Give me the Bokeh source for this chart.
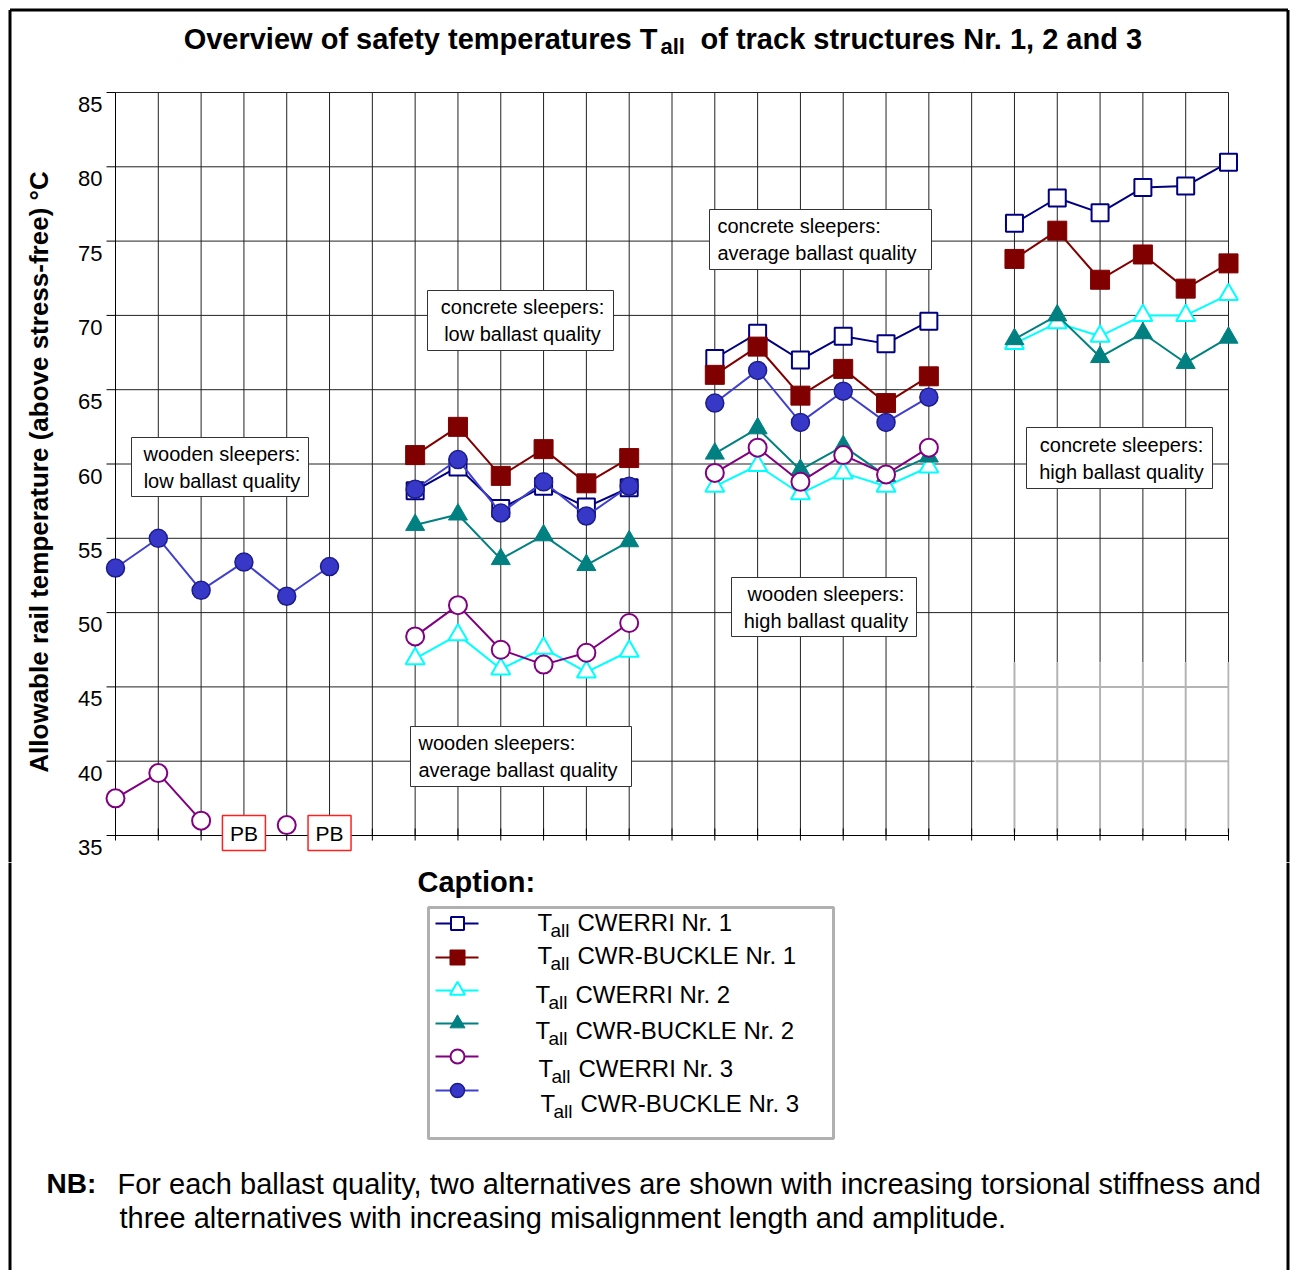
import math
from bokeh.plotting import figure
from bokeh.layouts import column
from bokeh.models import Range1d, LinearAxis, FixedTicker
from bokeh.core.properties import value
from bokeh.embed import file_html
from bokeh.resources import INLINE

nan = float("nan")

# ---------------- data ----------------
# four blocks of six alternatives: wooden/low, wooden/average, wooden/high, concrete/...
x_pos = [0, 1, 2, 3, 4, 5,
         7, 8, 9, 10, 11, 12,
         14, 15, 16, 17, 18, 19,
         21, 22, 23, 24, 25, 26]

cwerri_nr1 = [nan, nan, nan, nan, nan, nan,
              58.2, 59.8, 57.0, 58.5, 57.1, 58.4,
              67.1, 68.8, 67.0, 68.6, 68.1, 69.6,
              76.2, 77.9, 76.9, 78.6, 78.7, 80.3]
buckle_nr1 = [nan, nan, nan, nan, nan, nan,
              60.6, 62.5, 59.2, 61.0, 58.7, 60.4,
              66.0, 67.9, 64.6, 66.4, 64.1, 65.9,
              73.8, 75.7, 72.4, 74.1, 71.8, 73.5]
cwerri_nr2 = [nan, nan, nan, nan, nan, nan,
              46.9, 48.5, 46.2, 47.6, 46.0, 47.4,
              58.5, 59.9, 58.0, 59.4, 58.5, 59.8,
              68.1, 69.5, 68.6, 70.0, 70.0, 71.4]
buckle_nr2 = [nan, nan, nan, nan, nan, nan,
              55.9, 56.6, 53.6, 55.2, 53.2, 54.8,
              60.7, 62.4, 59.6, 61.2, 59.2, 60.5,
              68.4, 70.0, 67.2, 68.8, 66.8, 68.5]
cwerri_nr3 = [37.5, 39.2, 36.0, nan, 35.7, nan,
              48.4, 50.5, 47.5, 46.5, 47.3, 49.3,
              59.4, 61.1, 58.8, 60.6, 59.3, 61.1,
              nan, nan, nan, nan, nan, nan]
buckle_nr3 = [53.0, 55.0, 51.5, 53.4, 51.1, 53.1,
              58.3, 60.3, 56.7, 58.8, 56.5, 58.5,
              64.1, 66.3, 62.8, 64.9, 62.8, 64.5,
              nan, nan, nan, nan, nan, nan]

pb_x = [3, 5]
pb_text = ["PB", "PB"]

y_ticks = [35, 40, 45, 50, 55, 60, 65, 70, 75, 80, 85]
x_ticks = list(range(0, 27))

legend_names = ["CWERRI Nr. 1", "CWR-BUCKLE Nr. 1", "CWERRI Nr. 2",
                "CWR-BUCKLE Nr. 2", "CWERRI Nr. 3", "CWR-BUCKLE Nr. 3"]

box_texts = [("wooden sleepers:", "low ballast quality"),
             ("concrete sleepers:", "low ballast quality"),
             ("concrete sleepers:", "average ballast quality"),
             ("concrete sleepers:", "high ballast quality"),
             ("wooden sleepers:", "high ballast quality"),
             ("wooden sleepers:", "average ballast quality")]

# ---------------- geometry ----------------
W, H = 1295, 1270
H1 = 862                      # height of the chart part, the rest is caption / note
X0, X26 = 115.0, 1228.0
Y85, Y35 = 92.0, 835.0
XS = (X26 - X0) / 26.0
YS = (Y35 - Y85) / 50.0
FL, FR, FT, FB = 114, 1229, 91, 852
FONT = value("Liberation Sans")


def dx(px):
    return (px - X0) / XS


def dy(py):
    return 35.0 + (Y35 - py) / YS


p = figure(width=W, height=H1,
           x_range=Range1d(dx(FL), dx(FR)), y_range=Range1d(dy(FB), dy(FT)),
           min_border_left=FL, min_border_right=W - FR,
           min_border_top=FT, min_border_bottom=H1 - FB,
           x_axis_location=None, y_axis_location=None,
           output_backend="svg", toolbar_location=None,
           outline_line_color=None, background_fill_color="white",
           border_fill_color="white", frame_align=False)
p.grid.visible = False

# y axis (labels sit slightly below their tick like the original)
off = 12.0 / YS
p.extra_y_ranges = {"lab": Range1d(dy(FB) + off, dy(FT) + off)}
yax = LinearAxis(y_range_name="lab", ticker=FixedTicker(ticks=y_ticks),
                 axis_label="Allowable rail temperature (above stress-free) °C",
                 axis_label_text_font="Liberation Sans",
                 axis_label_text_font_style="bold",
                 axis_label_text_font_size="26px",
                 axis_label_text_color="black",
                 axis_label_standoff=21,
                 major_label_text_font="Liberation Sans",
                 major_label_text_font_size="22px",
                 major_label_text_color="black",
                 major_label_standoff=12,
                 axis_line_color=None, major_tick_line_color=None,
                 minor_tick_line_color=None, major_tick_in=0, major_tick_out=0)
p.add_layout(yax, "left")

GRID = "#222222"
p.segment(x0=x_ticks, y0=[35] * len(x_ticks), x1=x_ticks, y1=[85] * len(x_ticks),
          line_color=GRID, line_width=1)
p.segment(x0=[0] * len(y_ticks), y0=y_ticks, x1=[26] * len(y_ticks), y1=y_ticks,
          line_color=GRID, line_width=1)

# faded lower-right part of the grid
p.quad(left=dx(974), right=dx(1232), bottom=dy(833), top=dy(662),
       fill_color="white", line_color=None)
light_x = [t for t in x_ticks if t > 20]
p.segment(x0=light_x, y0=[dy(832)] * len(light_x), x1=light_x, y1=[dy(662)] * len(light_x),
          line_color="#b4b4b4", line_width=2)
light_y = [40, 45]
p.segment(x0=[dx(975)] * 2, y0=light_y, x1=[26] * 2, y1=light_y,
          line_color="#b4b4b4", line_width=2)

# axis lines and tick stubs
p.segment(x0=[0], y0=[35], x1=[0], y1=[85], line_color="black", line_width=1, level="overlay")
p.segment(x0=[0], y0=[35], x1=[26], y1=[35], line_color="black", line_width=1, level="overlay")
p.segment(x0=[dx(106)] * len(y_ticks), y0=y_ticks, x1=[0] * len(y_ticks), y1=y_ticks,
          line_color="black", line_width=1, level="overlay")
p.segment(x0=x_ticks, y0=[dy(828)] * len(x_ticks), x1=x_ticks, y1=[dy(840)] * len(x_ticks),
          line_color="black", line_width=1, level="overlay")

# annotation boxes
box_px = [(131, 308, 437, 496, "center"),
          (427, 613, 290, 350, "center"),
          (709, 931, 209, 269, "left"),
          (1026, 1212, 427, 488, "center"),
          (731, 916, 577, 636, "center"),
          (410, 631, 726, 786, "left")]
p.quad(left=[dx(b[0]) for b in box_px], right=[dx(b[1]) for b in box_px],
       top=[dy(b[2]) for b in box_px], bottom=[dy(b[3]) for b in box_px],
       fill_color="white", line_color="#333333", line_width=1)
for (l, r, t, b, al), (s1, s2) in zip(box_px, box_texts):
    xx = (l + r) / 2.0 + 2 if al == "center" else l + 8
    mid = (t + b) / 2.0
    p.text(x=[dx(xx), dx(xx)], y=[dy(mid - 13.5), dy(mid + 13.5)], text=[s1, s2],
           text_font=FONT, text_font_size=value("20px"), text_color="black",
           text_align=al, text_baseline="middle")

# series: (values, line colour, marker, size, fill, marker outline, outline width)
series = [
    (cwerri_nr2, "#00ffff", "triangle", 19, "white", "#00ffff", 2),
    (buckle_nr2, "#008080", "triangle", 19, "#008080", "#008080", 1),
    (cwerri_nr3, "#800080", "circle", 18, "white", "#800080", 2),
    (cwerri_nr1, "#000080", "square", 17, "white", "#000080", 2),
    (buckle_nr1, "#800000", "square", 19, "#800000", "#800000", 1),
    (buckle_nr3, "#4040cc", "circle", 18, "#3838c8", "#1c1c8c", 1.5),
]
n_per_block = 6
for vals, lc, mk, sz, fc, mlc, mlw in series:
    for s in range(0, len(x_pos), n_per_block):
        xs_b = x_pos[s:s + n_per_block]
        ys_b = vals[s:s + n_per_block]
        if all(math.isnan(v) for v in ys_b):
            continue
        p.line(xs_b, ys_b, line_color=lc, line_width=2, level="overlay")
    p.scatter(x_pos, vals, marker=mk, size=sz, fill_color=fc, line_color=mlc,
              line_width=mlw, level="overlay")

# PB boxes (no buckling result)
pb_y = [dy(832.5)] * len(pb_x)
p.rect(x=pb_x, y=pb_y, width=43, height=35, width_units="screen", height_units="screen",
       fill_color="white", line_color="#ff2020", line_width=1.5, level="overlay")
p.text(x=pb_x, y=pb_y, text=pb_text, text_font=FONT,
       text_font_size=value("21px"), text_align="center", text_baseline="middle",
       text_color="black", level="overlay")


# title with subscript
def ttl(x_px, y_px, s, size, align="left"):
    p.text(x=[dx(x_px)], y=[dy(y_px)], text=[s], text_font=FONT,
           text_font_size=value("%dpx" % size), text_font_style="bold",
           text_align=align, text_baseline="middle", text_color="black", level="overlay")


ttl(657, 38, "Overview of safety temperatures T", 29, align="right")
ttl(660, 46, "all", 22)
ttl(700, 38, "of track structures Nr. 1, 2 and 3", 29)

# outer frame (upper part)
p.segment(x0=[dx(9.5), dx(9.5), dx(1287.5)], y0=[dy(9.5), dy(9.5), dy(9.5)],
          x1=[dx(1287.5), dx(9.5), dx(1287.5)], y1=[dy(9.5), dy(H1), dy(H1)],
          line_color="black", line_width=3, level="overlay")

# ---------------- lower part: caption / legend / note ----------------
q = figure(width=W, height=H - H1, x_range=Range1d(0, W), y_range=Range1d(H, H1),
           min_border_left=0, min_border_right=0, min_border_top=0, min_border_bottom=0,
           x_axis_location=None, y_axis_location=None,
           output_backend="svg", toolbar_location=None, outline_line_color=None,
           background_fill_color="white", border_fill_color="white", frame_align=False)
q.grid.visible = False


def txt(x_px, y_px, s, size, bold=False):
    q.text(x=[x_px], y=[y_px], text=[s], text_font=FONT,
           text_font_size=value("%dpx" % size), text_font_style="bold" if bold else "normal",
           text_align="left", text_baseline="middle", text_color="black")


txt(417, 881, "Caption:", 29, bold=True)
q.quad(left=[428], right=[833], top=[907], bottom=[1138],
       fill_color=None, line_color="#b0b0b0", line_width=3)
row_y = [923, 957, 990, 1023, 1056, 1090]
row_tx = [537, 537, 535, 535, 538, 540]
row_ty = [922, 955, 994, 1030, 1068, 1103]
leg_style = [series[3], series[4], series[0], series[1], series[2], series[5]]
for i, name in enumerate(legend_names):
    _, lc, mk, sz, fc, mlc, mlw = leg_style[i]
    q.segment(x0=[435], y0=[row_y[i]], x1=[478], y1=[row_y[i]], line_color=lc, line_width=2)
    q.scatter(x=[457], y=[row_y[i]], marker=mk, size=sz - 4, fill_color=fc,
              line_color=mlc, line_width=mlw)
    txt(row_tx[i], row_ty[i], "T", 24)
    txt(row_tx[i] + 13, row_ty[i] + 8, "all", 19)
    txt(row_tx[i] + 40, row_ty[i], name, 24)

txt(46, 1183, "NB:", 28, bold=True)
txt(117, 1183, "For each ballast quality, two alternatives are shown with increasing torsional stiffness and", 29)
txt(119, 1217, "three alternatives with increasing misalignment length and amplitude.", 29)

q.segment(x0=[9.5, 1287.5], y0=[H1, H1], x1=[9.5, 1287.5], y1=[H, H],
          line_color="black", line_width=3)

layout = column(p, q, spacing=0)
open("out.html", "w").write(file_html(layout, INLINE))
